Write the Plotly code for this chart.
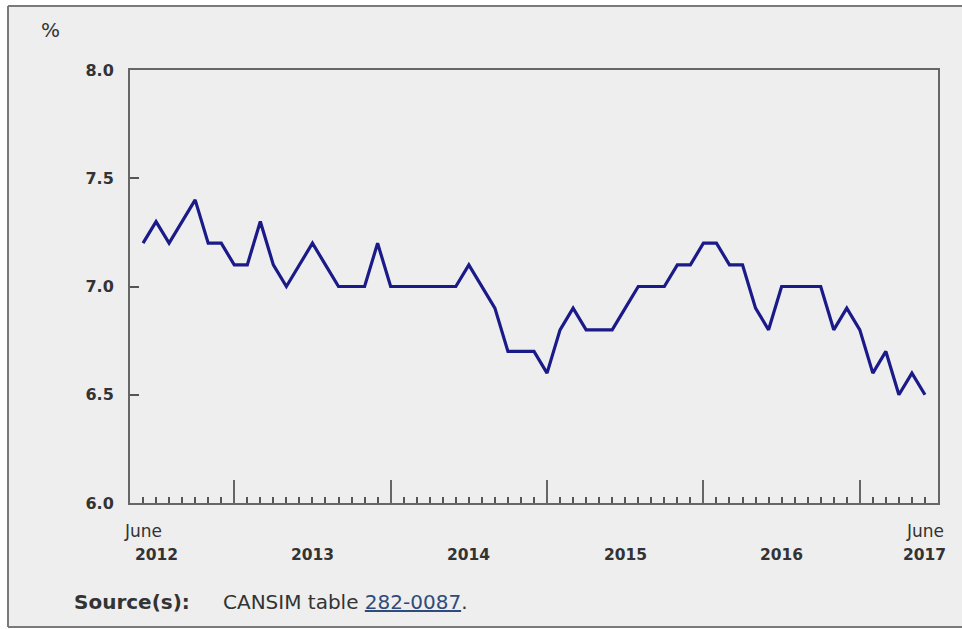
import plotly.graph_objects as go
import pandas as pd

# ---------------- data ----------------
months = [p.strftime("%Y-%m") for p in pd.period_range("2012-06", "2017-06", freq="M")]
rate = [7.2, 7.3, 7.2, 7.3, 7.4, 7.2, 7.2, 7.1, 7.1, 7.3, 7.1, 7.0, 7.1, 7.2, 7.1, 7.0, 7.0, 7.0, 7.2, 7.0,
        7.0, 7.0, 7.0, 7.0, 7.0, 7.1, 7.0, 6.9, 6.7, 6.7, 6.7, 6.6, 6.8, 6.9, 6.8, 6.8, 6.8, 6.9, 7.0, 7.0,
        7.0, 7.1, 7.1, 7.2, 7.2, 7.1, 7.1, 6.9, 6.8, 7.0, 7.0, 7.0, 7.0, 6.8, 6.9, 6.8, 6.6, 6.7, 6.5, 6.6, 6.5]
y_ticks = [6.0, 6.5, 7.0, 7.5, 8.0]
y_tick_labels = ["6.0", "6.5", "7.0", "7.5", "8.0"]
year_labels = ["2012", "2013", "2014", "2015", "2016", "2017"]
end_month_label = "June"
unit_label = "%"
source_label = "Source(s):"
source_text = "CANSIM table "
source_table = "282-0087"

# ---------------- layout geometry ----------------
W, H = 962, 629
L, R, T, B = 130, 24, 70, 126
PW, PH = W - L - R, H - T - B
FONT = "Verdana, DejaVu Sans, sans-serif"
TXT = "#333333"
FRAME = "#7a7a7a"


def px_x(px):
    return (px - L) / PW


def px_y(py):
    return (H - B - py) / PH


x_idx = list(range(len(months)))
jan_idx = [i for i, m in enumerate(months) if m.endswith("-01")]

# year label positions: first/last at the end months, others centred between Januaries
year_pos = [x_idx[0] + 1]
for a, b in zip(jan_idx[:-1], jan_idx[1:]):
    year_pos.append((a + b) / 2)
year_pos.append(x_idx[-1])

fig = go.Figure()
fig.add_trace(go.Scatter(
    x=x_idx, y=rate, customdata=months, mode="lines",
    line=dict(color="#1a1a88", width=3.2),
    hovertemplate="%{customdata}: %{y:.1f}%<extra></extra>",
    showlegend=False,
))

annotations = []
# unit label
annotations.append(dict(text=unit_label, x=px_x(50), y=px_y(30), xref="paper", yref="paper",
                        xanchor="center", yanchor="middle", showarrow=False,
                        font=dict(family=FONT, size=20, color=TXT)))
# month labels at both ends
for xi in (x_idx[0], x_idx[-1]):
    annotations.append(dict(text=end_month_label, x=xi, y=px_y(531), xref="x", yref="paper",
                            xanchor="center", yanchor="middle", showarrow=False,
                            font=dict(family=FONT, size=17, color=TXT)))
# year labels
for xp, lab in zip(year_pos, year_labels):
    annotations.append(dict(text="<b>" + lab + "</b>", x=xp, y=px_y(555), xref="x", yref="paper",
                            xanchor="center", yanchor="middle", showarrow=False,
                            font=dict(family=FONT, size=15.5, color=TXT)))
# source line
annotations.append(dict(text="<b>" + source_label + "</b>", x=px_x(72), y=px_y(602), xref="paper",
                        yref="paper", xanchor="left", yanchor="middle", showarrow=False,
                        font=dict(family=FONT, size=20, color=TXT)))
annotations.append(dict(
    text=source_text + '<span style="text-decoration:underline;fill:#2f4b7c">' + source_table + "</span>.",
    x=px_x(221), y=px_y(602), xref="paper", yref="paper", xanchor="left", yanchor="middle",
    showarrow=False, font=dict(family=FONT, size=20, color=TXT)))

fx0, fx1, fy0, fy1 = px_x(8), px_x(W + 20), px_y(627), px_y(6)
shapes = [
    dict(type="rect", xref="paper", yref="paper", x0=fx0, x1=fx1, y0=fy0, y1=fy1,
         fillcolor="#eeeeee", line=dict(width=0), layer="below"),
    dict(type="line", xref="paper", yref="paper", x0=fx0, x1=fx1, y0=fy1, y1=fy1,
         line=dict(color=FRAME, width=2), layer="below"),
    dict(type="line", xref="paper", yref="paper", x0=fx0, x1=fx1, y0=fy0, y1=fy0,
         line=dict(color=FRAME, width=2), layer="below"),
    dict(type="line", xref="paper", yref="paper", x0=fx0, x1=fx0, y0=fy0, y1=fy1,
         line=dict(color=FRAME, width=2), layer="below"),
]

fig.update_layout(
    width=W, height=H,
    margin=dict(l=L, r=R, t=T, b=B, pad=0),
    paper_bgcolor="white",
    plot_bgcolor="white",
    font=dict(family=FONT, color=TXT),
    shapes=shapes,
    annotations=annotations,
    xaxis=dict(range=[-1, 61], showgrid=False, zeroline=False,
               showline=True, linecolor="#666666", linewidth=2, mirror=True,
               ticks="inside", tickvals=jan_idx, ticklen=23, tickwidth=1.5, tickcolor="#666666",
               showticklabels=False,
               minor=dict(ticks="inside", dtick=1, tick0=0, ticklen=6, tickwidth=2,
                          tickcolor="#555555", showgrid=False)),
    yaxis=dict(range=[6, 8], showgrid=False, zeroline=False,
               showline=True, linecolor="#666666", linewidth=2, mirror=True,
               ticks="inside", tickvals=y_ticks, ticktext=y_tick_labels, ticklen=9, tickwidth=2,
               tickcolor="#555555", ticklabelstandoff=11,
               tickfont=dict(family=FONT, size=16, color=TXT, weight="bold")),
)

fig.write_html("out.html", config={"displayModeBar": False},
               post_script="document.body.style.margin='0';document.body.style.overflow='hidden';")
